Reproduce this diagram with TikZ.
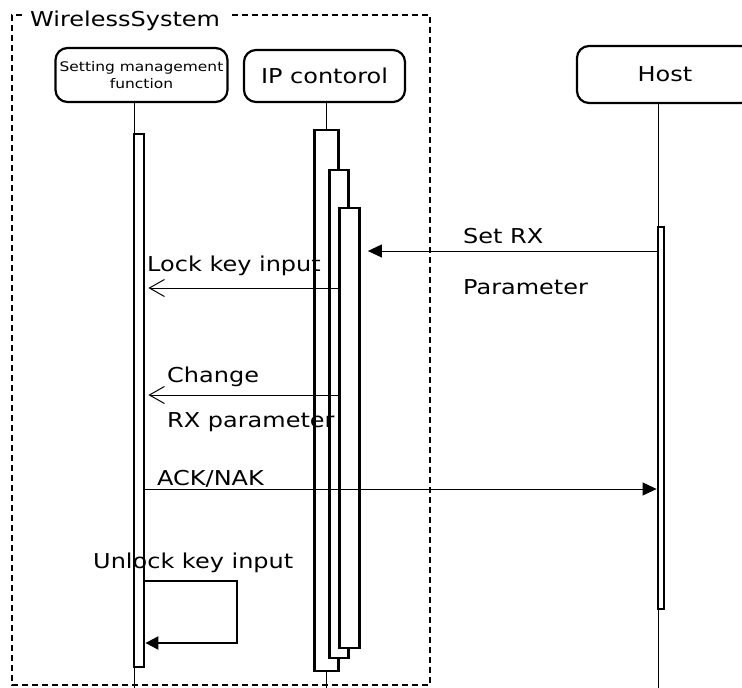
\documentclass[tikz,border=0pt]{standalone}
\usepackage{fontspec}
\setmainfont[FakeStretch=1.17]{DejaVu Sans}
\usetikzlibrary{positioning, fit, arrows.meta}

\tikzset{
  head/.style={draw, line width=2.2pt, rounded corners=12pt, align=center, inner sep=2pt},
  life/.style={line width=1pt},
  actbar/.style={draw, fill=white, line width=2.8pt, inner sep=0pt},
  syncmsg/.style={line width=1pt, -{Triangle[length=14pt, width=13pt]}},
  replymsg/.style={line width=1pt, -{Straight Barb[length=15pt, width=17pt, line width=1pt]}},
  msgtext/.style={anchor=base west, inner sep=0pt, font=\fontsize{20.5}{24}\selectfont},
}

\begin{document}
\begin{tikzpicture}[x=1pt, y=-1pt]
	\useasboundingbox (0,0) rectangle (742,688);
	% system frame
	\node (wsys) [msgtext] at (30,27) {WirelessSystem};
	\draw[line width=2.6pt, dash pattern=on 6pt off 4pt] (22,15) -- (12,15) -- (12,685) -- (430,685) -- (430,15) -- (229,15);
	% lifeline heads
	\node (smf) at (141.5,75) [head, minimum width=172pt, minimum height=54pt, font=\fontsize{13.2}{17}\selectfont] {Setting management\\ function};
	\node (ipc) at (324.5,76) [head, minimum width=161pt, minimum height=52pt, font=\fontsize{20.5}{24}\selectfont] {IP contorol};
	\node (host) at (665,74.5) [head, minimum width=176pt, minimum height=57pt, font=\fontsize{20.5}{24}\selectfont] {Host};
	% lifelines
	\coordinate (smfend) at (134,688);
	\coordinate (ipcend) at (326,688);
	\coordinate (hostend) at (658,688);
	\draw[life] (smf.south -| smfend) -- (smfend);
	\draw[life] (ipc.south -| ipcend) -- (ipcend);
	\draw[life] (host.south -| hostend) -- (hostend);
	% activation bars
	\node (smfbar) at (139,400.5) [actbar, minimum width=10pt, minimum height=533pt] {};
	\node (ipbar1) at (326.5,400.5) [actbar, minimum width=24pt, minimum height=541pt] {};
	\node (ipbar2) at (339,414) [actbar, minimum width=19pt, minimum height=488pt] {};
	\node (ipbar3) at (349.5,428) [actbar, minimum width=20pt, minimum height=440pt] {};
	\node (hostbar) at (661,418) [actbar, minimum width=6pt, minimum height=382pt] {};
	% messages
	\coordinate (setrx) at (0,251);
	\coordinate (lock) at (0,288);
	\coordinate (chg) at (0,395);
	\coordinate (ack) at (0,489);
	\draw[syncmsg, shorten >=7pt] (hostbar.west |- setrx) -- (ipbar3.east |- setrx);
	\draw[replymsg, shorten >=3pt] (ipbar1.east |- lock) -- (smfbar.east |- lock);
	\draw[replymsg, shorten >=3pt] (ipbar3.west |- chg) -- (smfbar.east |- chg);
	\draw[syncmsg] (smfbar.east |- ack) -- (hostbar.west |- ack);
	\coordinate (selfturn) at (237,0);
	\draw[line width=2.2pt, -{Triangle[length=13pt, width=13pt]}] (smfbar.east |- 0,581) -- (selfturn |- 0,581) -- (selfturn |- 0,643) -- (smfbar.east |- 0,643);
	% message labels
	\node (setrxtext) [msgtext] at (463,243) {Set RX};
	\node (paramtext) [msgtext] at (463,294) {Parameter};
	\node (locktext) [msgtext] at (147,271) {Lock key input};
	\node (chgtext) [msgtext] at (167,382) {Change};
	\node (rxtext) [msgtext] at (167,427) {RX parameter};
	\node (acktext) [msgtext] at (157,485) {ACK/NAK};
	\node (unlocktext) [msgtext] at (93,568) {Unlock key input};
\end{tikzpicture}
\end{document}
